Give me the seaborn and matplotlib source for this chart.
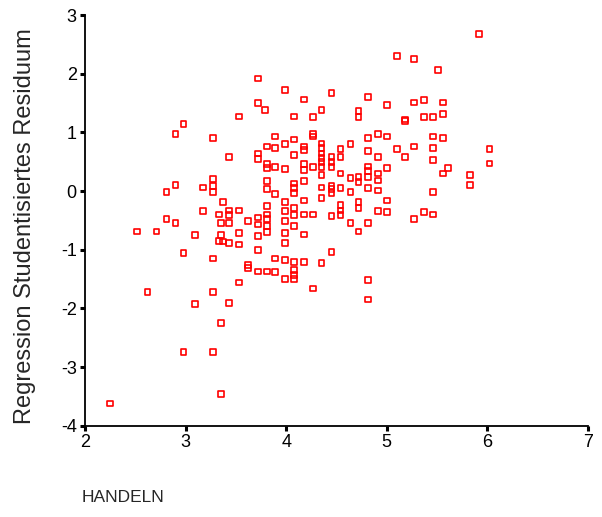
import matplotlib
matplotlib.use("Agg")
import matplotlib.pyplot as plt
import seaborn as sns
import pandas as pd

# HANDELN scores and the studentised residuals of the regression
handeln = [
    2.25, 2.52, 2.62, 2.71, 2.81, 2.81, 2.90, 2.90, 2.90,
    2.98, 2.98, 2.98, 3.09, 3.09, 3.17, 3.17,
    3.27, 3.27, 3.27, 3.27, 3.27, 3.27, 3.27,
    3.33, 3.33, 3.35, 3.35, 3.35, 3.35, 3.37, 3.37,
    3.43, 3.43, 3.43, 3.43, 3.43, 3.43,
    3.53, 3.53, 3.53, 3.53, 3.53, 3.62, 3.62, 3.62,
    3.72, 3.72, 3.72, 3.72, 3.72, 3.72, 3.72, 3.72, 3.72, 3.79,
    3.81, 3.81, 3.81, 3.81, 3.81, 3.81, 3.81, 3.81, 3.81, 3.81, 3.81,
    3.89, 3.89, 3.89, 3.89, 3.89, 3.89,
    3.99, 3.99, 3.99, 3.99, 3.99, 3.99, 3.99, 3.99, 3.99, 3.99,
    4.08, 4.08, 4.08, 4.08, 4.08, 4.08, 4.08, 4.08, 4.08, 4.08, 4.08, 4.08, 4.08,
    4.18, 4.18, 4.18, 4.18, 4.18, 4.18, 4.18, 4.18, 4.18, 4.18,
    4.27, 4.27, 4.27, 4.27, 4.27, 4.27,
    4.35, 4.35, 4.35, 4.35, 4.35, 4.35, 4.35, 4.35, 4.35, 4.35, 4.35,
    4.45, 4.45, 4.45, 4.45, 4.45, 4.45, 4.45, 4.45, 4.45,
    4.54, 4.54, 4.54, 4.54, 4.54, 4.54, 4.54,
    4.64, 4.64, 4.64, 4.64,
    4.72, 4.72, 4.72, 4.72, 4.72, 4.72, 4.72,
    4.81, 4.81, 4.81, 4.81, 4.81, 4.81, 4.81, 4.81, 4.81, 4.81,
    4.91, 4.91, 4.91, 4.91, 4.91, 4.91,
    5.00, 5.00, 5.00, 5.00, 5.00,
    5.10, 5.10, 5.18, 5.18, 5.18,
    5.27, 5.27, 5.27, 5.27, 5.37, 5.37, 5.37,
    5.46, 5.46, 5.46, 5.46, 5.46, 5.46, 5.51,
    5.56, 5.56, 5.56, 5.56, 5.61, 5.83, 5.83, 5.92, 6.02, 6.02,
]
residuum = [
    -3.62, -0.69, -1.72, -0.69, -0.02, -0.48, 0.97, 0.10, -0.55,
    1.14, -1.06, -2.74, -0.75, -1.93, 0.06, -0.34,
    0.90, 0.20, 0.08, -0.02, -1.15, -1.72, -2.74,
    -0.40, -0.85, -0.55, -0.75, -2.25, -3.46, -0.19, -0.86,
    0.58, -0.33, -0.41, -0.55, -0.89, -1.91,
    1.27, -0.33, -0.72, -0.91, -1.56, -0.51, -1.26, -1.31,
    1.92, 1.50, 0.64, 0.54, -0.45, -0.57, -0.77, -1.01, -1.37, 1.38,
    0.76, 0.46, 0.39, 0.17, 0.03, -0.26, -0.40, -0.48, -0.60, -0.70, -1.37,
    0.93, 0.73, 0.41, -0.05, -1.15, -1.38,
    1.72, 0.80, 0.37, -0.19, -0.34, -0.51, -0.72, -0.89, -1.18, -1.50,
    1.27, 0.88, 0.61, 0.13, 0.05, -0.04, -0.29, -0.41, -0.60, -1.21, -1.35, -1.43, -1.50,
    1.56, 0.76, 0.70, 0.46, 0.36, 0.17, -0.16, -0.40, -0.74, -1.21,
    1.26, 0.97, 0.93, 0.41, -0.40, -1.66,
    1.38, 0.81, 0.73, 0.64, 0.56, 0.49, 0.41, 0.27, 0.06, -0.12, -1.23,
    1.67, 0.58, 0.49, 0.41, 0.08, 0.03, -0.04, -0.43, -1.04,
    0.71, 0.58, 0.30, 0.05, -0.24, -0.33, -0.41,
    0.80, 0.22, -0.02, -0.55,
    1.36, 1.26, 0.24, 0.15, -0.19, -0.29, -0.69,
    1.60, 0.90, 0.68, 0.42, 0.34, 0.24, 0.05, -0.55, -1.52, -1.85,
    0.97, 0.58, 0.30, 0.18, 0.01, -0.34,
    1.46, 0.93, 0.39, -0.16, -0.36,
    2.30, 0.71, 1.22, 1.19, 0.58,
    2.25, 1.51, 0.76, -0.48, 1.55, 1.26, -0.36,
    1.26, 0.93, 0.73, 0.53, -0.02, -0.40, 2.06,
    1.51, 1.31, 0.90, 0.30, 0.39, 0.27, 0.10, 2.67, 0.71, 0.47,
]

x_ticks = [2, 3, 4, 5, 6, 7]
y_ticks = [-4, -3, -2, -1, 0, 1, 2, 3]

df = pd.DataFrame({"HANDELN": handeln, "Residuum": residuum})

sns.set_style("white")
plt.rcParams["font.family"] = ["Liberation Sans", "DejaVu Sans"]

fig = plt.figure(figsize=(6.02, 5.17), dpi=100)
ax = fig.add_axes([85 / 602, 1 - 425.7 / 517, 503 / 602, 410.7 / 517])

sns.scatterplot(data=df, x="HANDELN", y="Residuum", ax=ax, marker="s",
                s=17, color="#ff0000", linewidth=1.2, clip_on=False, legend=False)
for coll in ax.collections:
    coll.set_facecolor("none")
    coll.set_edgecolor("#ff0000")

ax.set_xlim(2, 7)
ax.set_ylim(-4, 3)
ax.set_xticks(x_ticks)
ax.set_yticks(y_ticks)
ax.set_xticklabels([str(v) for v in x_ticks])
ax.set_yticklabels([str(v) for v in y_ticks])

for side in ("top", "right"):
    ax.spines[side].set_visible(False)
for side in ("left", "bottom"):
    ax.spines[side].set_color("black")
    ax.spines[side].set_linewidth(1.3)

ax.tick_params(axis="both", direction="out", length=3.5, width=2.2,
               color="black", labelsize=13, labelcolor="black", pad=2.5,
               left=True, bottom=True)

ax.set_ylabel("Regression Studentisiertes Residuum", fontsize=17)
ax.yaxis.label.set_va("center")
ax.yaxis.set_label_coords(-0.119, 0.485)

ax.set_xlabel("HANDELN", fontsize=12.5, ha="left", va="center")
ax.xaxis.set_label_coords(-0.006, -0.174)

fig.savefig("out.png", dpi=100, facecolor="white")
